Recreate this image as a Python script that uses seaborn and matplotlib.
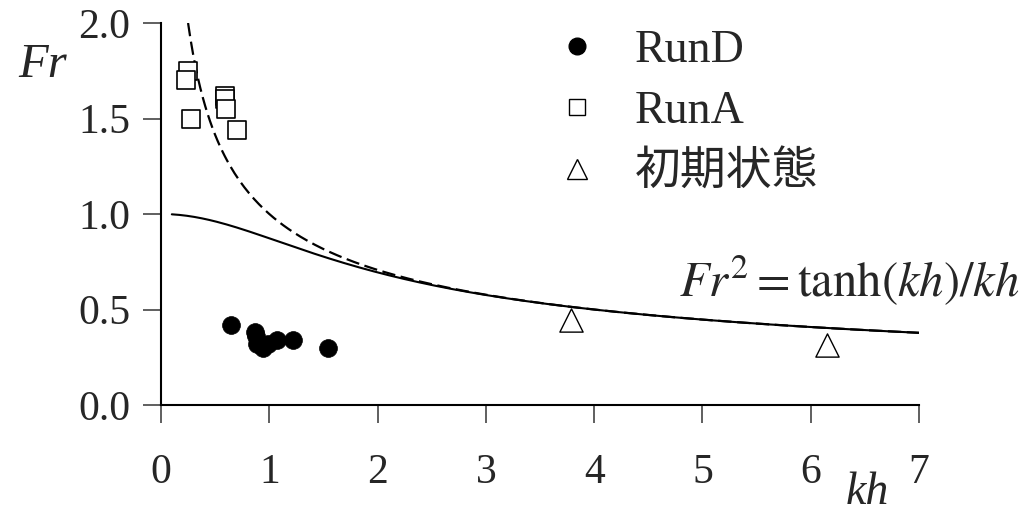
import numpy as np
import matplotlib
matplotlib.use("Agg")
import matplotlib.pyplot as plt
from matplotlib.lines import Line2D
import seaborn as sns

# Measured points
rund_kh = [0.65, 0.87, 0.88, 0.89, 0.94, 0.99, 1.07, 1.22, 1.54]
rund_fr = [0.42, 0.38, 0.36, 0.32, 0.30, 0.32, 0.34, 0.34, 0.30]

runa_kh = [0.25, 0.23, 0.28, 0.59, 0.59, 0.60, 0.70]
runa_fr = [1.75, 1.70, 1.50, 1.62, 1.60, 1.55, 1.44]

init_kh = [3.79, 6.15]
init_fr = [0.445, 0.315]

# Theoretical curves
kh_lin = np.linspace(0.1, 7.0, 300)
fr_lin = np.sqrt(np.tanh(kh_lin) / kh_lin)      # Fr^2 = tanh(kh)/kh
kh_deep = np.linspace(0.25, 7.0, 300)
fr_deep = 1.0 / np.sqrt(kh_deep)                # deep-water limit Fr^2 = 1/kh

x_ticks = [0, 1, 2, 3, 4, 5, 6, 7]
y_ticks = [0.0, 0.5, 1.0, 1.5, 2.0]
legend_labels = ["RunD", "RunA", "初期状態"]

sns.set_theme(style="ticks")
plt.rcParams["font.family"] = ["Liberation Serif", "Noto Sans CJK JP"]
plt.rcParams["mathtext.fontset"] = "stix"

W, H = 1028, 515
fig = plt.figure(figsize=(W / 100, H / 100), dpi=100)
ax = fig.add_axes([161 / W, 1 - 405 / H, (919 - 161) / W, (405 - 23) / H])

sns.lineplot(x=kh_lin, y=fr_lin, ax=ax, color="black", lw=1.5)
sns.lineplot(x=kh_deep, y=fr_deep, ax=ax, color="black", lw=1.6,
             linestyle=(0, (6, 2.5)))

sns.scatterplot(x=rund_kh, y=rund_fr, ax=ax, marker="o", s=165,
                color="black", edgecolor="black", linewidth=0.5, zorder=5)
sns.scatterplot(x=runa_kh, y=runa_fr, ax=ax, marker="s", s=150,
                color="white", edgecolor="black", linewidth=1.2, zorder=5)
sns.scatterplot(x=init_kh, y=init_fr, ax=ax, marker="^", s=280,
                color="white", edgecolor="black", linewidth=1.0, zorder=5)

ax.set_xlim(0, 7)
ax.set_ylim(0, 2)
ax.set_xticks(x_ticks)
ax.set_yticks(y_ticks)
ax.set_xticklabels([str(t) for t in x_ticks])
ax.set_yticklabels([f"{t:.1f}" for t in y_ticks])
ax.tick_params(axis="x", length=13, width=1.2, pad=22, labelsize=30,
               color="#444444")
ax.tick_params(axis="y", length=13, width=1.2, pad=9, labelsize=30,
               color="#444444")
for side in ("top", "right"):
    ax.spines[side].set_visible(False)
for side in ("left", "bottom"):
    ax.spines[side].set_linewidth(1.5)
    ax.spines[side].set_color("black")
ax.set_xlabel("")
ax.set_ylabel("")

fig.text(43 / W, 1 - 65 / H, "Fr", fontsize=35, style="italic",
         ha="center", va="center")
fig.text(867 / W, 1 - 504 / H, "kh", fontsize=33, style="italic",
         ha="center", va="baseline")
fig.text(1020 / W, 1 - 297 / H,
         r"$Fr^2 = \mathrm{tanh}\left(kh\right)/kh$",
         fontsize=35, ha="right", va="baseline")

handles = [
    Line2D([], [], marker="o", linestyle="none", markersize=12,
           markerfacecolor="black", markeredgecolor="black"),
    Line2D([], [], marker="s", linestyle="none", markersize=11,
           markerfacecolor="white", markeredgecolor="black", markeredgewidth=1.0),
    Line2D([], [], marker="^", linestyle="none", markersize=14,
           markerfacecolor="white", markeredgecolor="black", markeredgewidth=1.0),
]
ax.legend(handles, legend_labels, loc="upper left",
          bbox_to_anchor=(554 / W, 1 - 30 / H), bbox_transform=fig.transFigure,
          frameon=False, fontsize=33, handlelength=1.0, handletextpad=0.77,
          labelspacing=0.40, borderpad=0.0, borderaxespad=0.0)

fig.savefig("out.png", dpi=100)
